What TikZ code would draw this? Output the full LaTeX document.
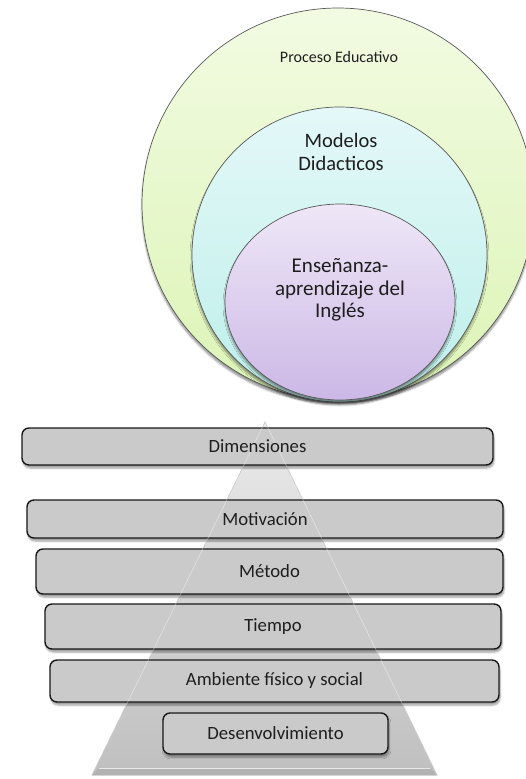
\documentclass[tikz,border=0pt]{standalone}
\usepackage{fontspec}
\setmainfont{Carlito}
\usetikzlibrary{shadows.blur}
\definecolor{gtop}{HTML}{F2FBE2}
\definecolor{gbot}{HTML}{DCF4B6}
\definecolor{ctop}{HTML}{E4F8F8}
\definecolor{cbot}{HTML}{BDEFEA}
\definecolor{ptop}{HTML}{EEE7F7}
\definecolor{pbot}{HTML}{CCB8E6}
\definecolor{boxgray}{HTML}{CACACA}
\definecolor{txt}{HTML}{1E1E1E}
\begin{document}
\begin{tikzpicture}[x=1pt,y=-1pt,
  ring/.style={draw=black!65, line width=0.7pt, blur shadow={shadow xshift=0pt, shadow yshift=-3pt, shadow opacity=45, shadow blur steps=6}},
  dimbox/.style={draw=black!90, line width=1.4pt, rounded corners=7pt, fill=boxgray,
    inner sep=0pt,
    blur shadow={shadow xshift=1pt, shadow yshift=-3pt, shadow opacity=40, shadow blur steps=5}},
  dimtext/.style={font=\fontsize{18.7}{20}\selectfont, text=txt, inner sep=0pt},
  lbl/.style={text=txt, align=center}
]
\path[use as bounding box] (0,0) rectangle (526,779);
\clip (0,0) rectangle (526,779);

% nested circles
\path[ring, top color=gtop, bottom color=gbot] (338,204) ellipse [x radius=196pt, y radius=196pt];
\path[ring, top color=ctop, bottom color=cbot] (339.5,254.5) ellipse [x radius=147.5pt, y radius=147.5pt];
\path[ring, top color=ptop, bottom color=pbot] (340,302) ellipse [x radius=115pt, y radius=98pt];

\node[lbl, font=\fontsize{16}{18}\selectfont] (pe) at (339,57) {Proceso Educativo};
\node[lbl, font=\fontsize{20.5}{22.5}\selectfont] (md) at (341,152) {Modelos\\Didacticos};
\node[lbl, font=\fontsize{21}{22.5}\selectfont] (ea) at (340,290) {Enseñanza-\\aprendizaje del\\Inglés};

% pyramid
\coordinate (apex) at (265,422);
\coordinate (bl) at (92,775);
\coordinate (br) at (437,775);
\path[top color=white!92!black, bottom color=black!25, draw=black!35, line width=0.5pt] (apex) -- (br) -- (bl) -- cycle;
\path[fill=black!30] (bl) -- (br) -- (430,768) -- (99,768) -- cycle;
\draw[white, opacity=0.7, line width=0.6pt] (99,768) -- (430,768);

% dimension boxes
\node[dimbox, minimum width=471, minimum height=37] (dim) at (257.5,446.5) {};
\node[dimbox, minimum width=476, minimum height=38] (mot) at (265,519) {};
\node[dimbox, minimum width=467, minimum height=45] (met) at (269.5,571.5) {};
\node[dimbox, minimum width=456, minimum height=45] (tie) at (273,626.5) {};
\node[dimbox, minimum width=449, minimum height=42] (amb) at (274.5,681) {};
\node[dimbox, minimum width=225, minimum height=41] (des) at (275.5,733.5) {};

% faint pyramid edges seen through the boxes
\draw[white, opacity=0.45, line width=0.6pt] (apex) -- (bl);
\draw[white, opacity=0.45, line width=0.6pt] (apex) -- (br);

% labels
\node[dimtext] (dimT) at (dim) {Dimensiones};
\node[dimtext] (motT) at (mot) {Motivación};
\node[dimtext] (metT) at (met) {Método};
\node[dimtext] (tieT) at (tie) {Tiempo};
\node[dimtext] (ambT) at (amb) {Ambiente físico y social};
\node[dimtext] (desT) at (des) {Desenvolvimiento};
\end{tikzpicture}
\end{document}
